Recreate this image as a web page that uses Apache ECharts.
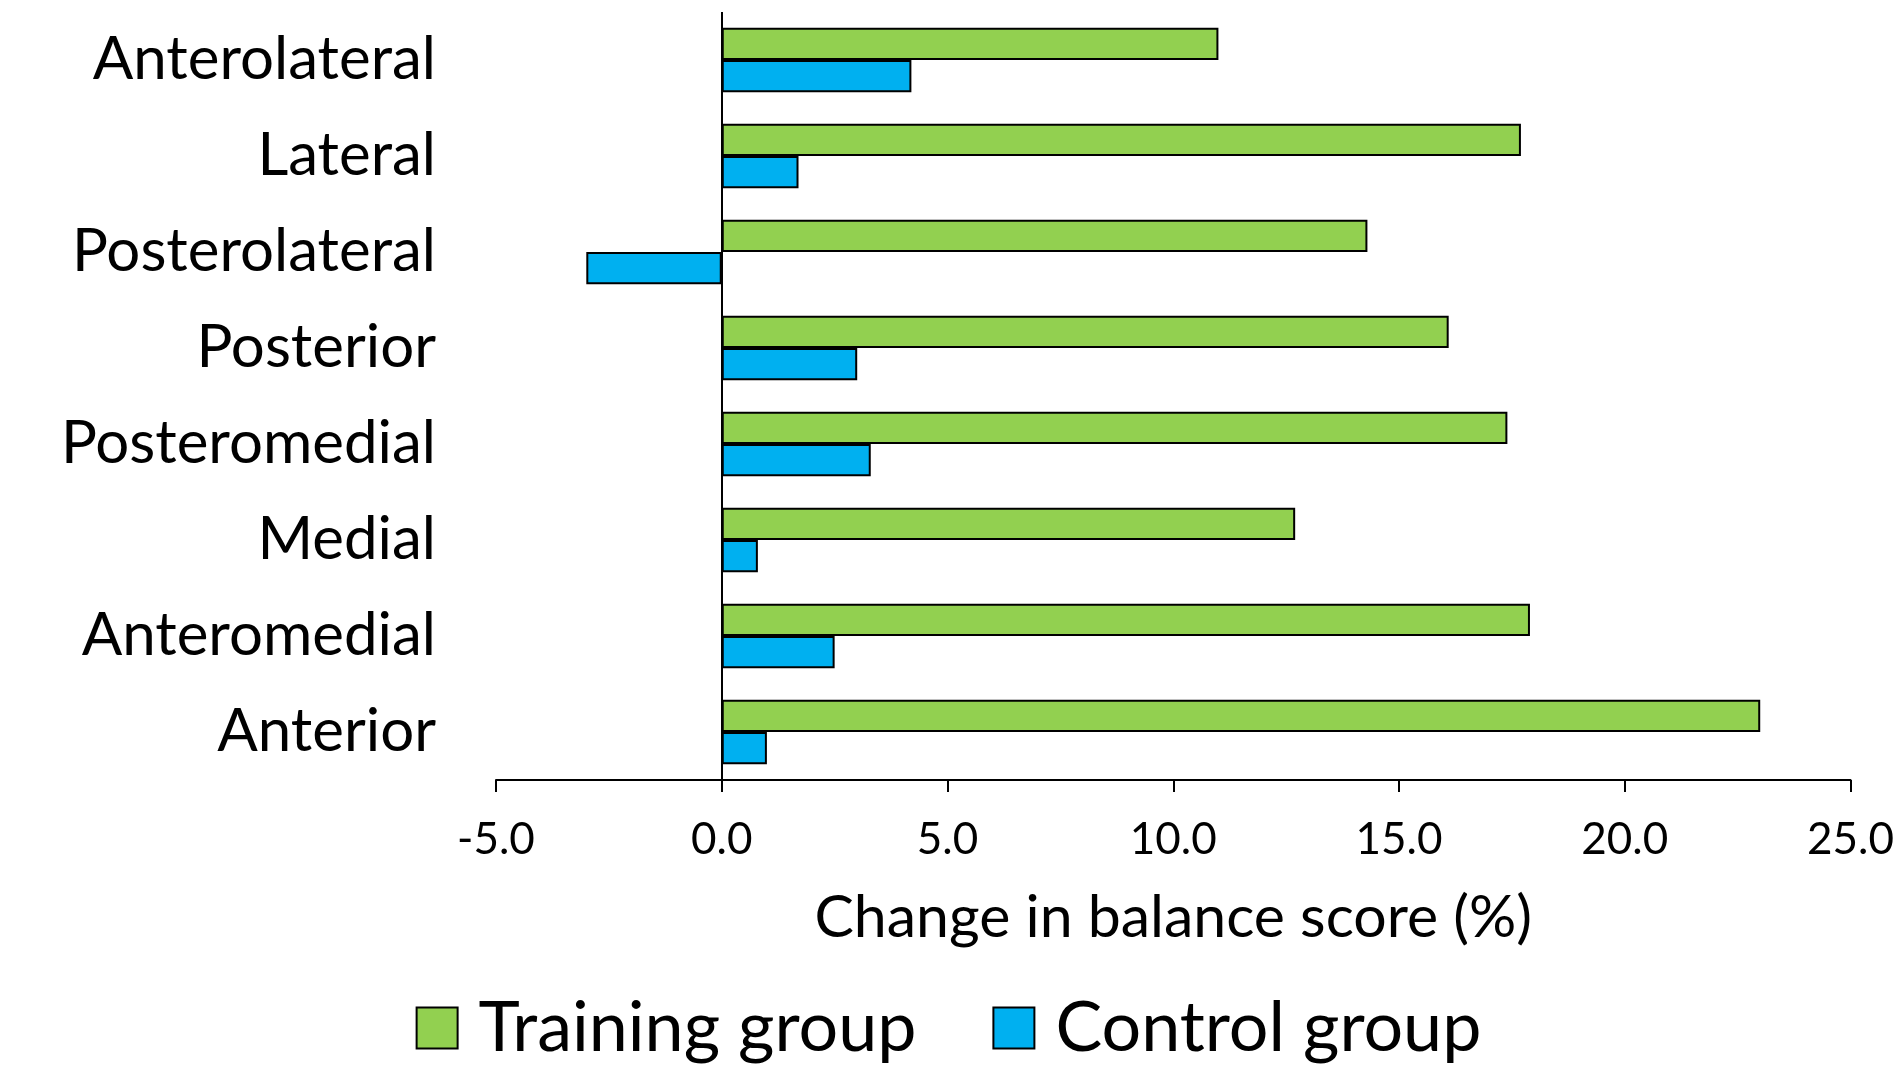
<!DOCTYPE html>
<html>
<head>
<meta charset="utf-8">
<script src="https://cdn.jsdelivr.net/npm/echarts@6/dist/echarts.min.js"></script>
<style>
  html, body { margin: 0; padding: 0; background: #fff; }
  #chart { width: 1897px; height: 1076px; }
</style>
</head>
<body>
<div id="chart"></div>
<script>
// Reach directions, listed bottom-to-top as the category axis draws them
const directions = ['Anterior', 'Anteromedial', 'Medial', 'Posteromedial',
                    'Posterior', 'Posterolateral', 'Lateral', 'Anterolateral'];
// Percent change in balance score for each direction
const trainingGroup = [23.0, 17.9, 12.7, 17.4, 16.1, 14.3, 17.7, 11.0];
const controlGroup  = [1.0, 2.5, 0.8, 3.3, 3.0, -3.0, 1.7, 4.2];
const seriesNames = ['Training group', 'Control group'];
const xTicks = { min: -5, max: 25, interval: 5 };

const FONT = 'Lato';
const chart = echarts.init(document.getElementById('chart'));

const barBorder = { borderColor: '#000', borderWidth: 2 };

chart.setOption({
  animation: false,
  backgroundColor: '#fff',
  textStyle: { fontFamily: FONT, color: '#000' },
  legend: {
    bottom: 8,
    left: 'center',
    itemWidth: 41,
    itemHeight: 41,
    itemGap: 76,
    icon: 'rect',
    textStyle: { fontFamily: FONT, fontSize: 70, color: '#000', padding: [0, 0, 0, 16] },
    data: seriesNames
  },
  grid: { left: 496, right: 40, top: 12, bottom: 296, containLabel: false },
  xAxis: {
    type: 'value',
    min: xTicks.min,
    max: xTicks.max,
    interval: xTicks.interval,
    name: 'Change in balance score (%)',
    nameLocation: 'middle',
    nameGap: 108,
    nameTextStyle: { fontFamily: FONT, fontSize: 59, color: '#000' },
    axisLine: { show: true, onZero: false, lineStyle: { color: '#000', width: 2 } },
    axisTick: { show: true, length: 12, lineStyle: { color: '#000', width: 2 } },
    axisLabel: {
      fontFamily: FONT, fontSize: 44, color: '#000', margin: 38,
      formatter: v => v.toFixed(1)
    },
    splitLine: { show: false }
  },
  yAxis: {
    type: 'category',
    data: directions,
    axisLine: { show: false },
    axisTick: { show: false },
    axisLabel: { fontFamily: FONT, fontSize: 60, color: '#000', margin: 60 }
  },
  series: [
    {
      name: seriesNames[0],
      type: 'bar',
      data: trainingGroup,
      barGap: '0%',
      barCategoryGap: '33%',
      itemStyle: Object.assign({ color: '#92D050' }, barBorder),
      // vertical reference line at zero change
      markLine: {
        silent: true,
        symbol: 'none',
        label: { show: false },
        lineStyle: { color: '#000', width: 2, type: 'solid' },
        data: [{ xAxis: 0 }]
      },
      z: 2
    },
    {
      name: seriesNames[1],
      type: 'bar',
      data: controlGroup,
      itemStyle: Object.assign({ color: '#00B0F0' }, barBorder),
      z: 2
    }
  ]
});
</script>
</body>
</html>
